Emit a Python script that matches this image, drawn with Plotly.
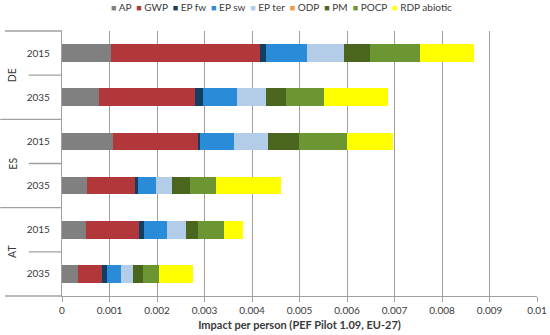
import plotly.graph_objects as go

countries = ["DE", "DE", "ES", "ES", "AT", "AT"]
years = ["2015", "2035", "2015", "2035", "2015", "2035"]

series_names = ["AP", "GWP", "EP fw", "EP sw", "EP ter", "ODP", "PM", "POCP", "RDP abiotic"]
colors = ["#808080", "#B1373A", "#113E61", "#2A8CD9", "#B3CDE8", "#F79646", "#4A661E", "#6B9632", "#FFFF00"]

AP     = [0.00104, 0.00078, 0.00108, 0.00053, 0.00050, 0.00033]
GWP    = [0.00312, 0.00203, 0.00178, 0.00101, 0.00112, 0.00051]
EP_fw  = [0.00013, 0.00015, 0.00005, 0.00006, 0.00010, 0.00010]
EP_sw  = [0.00086, 0.00072, 0.00072, 0.00037, 0.00050, 0.00031]
EP_ter = [0.00078, 0.00061, 0.00070, 0.00035, 0.00040, 0.00025]
ODP    = [0.0, 0.0, 0.0, 0.0, 0.0, 0.0]
PM     = [0.00055, 0.00042, 0.00065, 0.00038, 0.00025, 0.00020]
POCP   = [0.00106, 0.00081, 0.00103, 0.00054, 0.00053, 0.00034]
RDP    = [0.00114, 0.00135, 0.00095, 0.00136, 0.00042, 0.00071]

series_values = [AP, GWP, EP_fw, EP_sw, EP_ter, ODP, PM, POCP, RDP]

x_ticks = [0, 0.001, 0.002, 0.003, 0.004, 0.005, 0.006, 0.007, 0.008, 0.009, 0.01]
x_tick_labels = ["0", "0.001", "0.002", "0.003", "0.004", "0.005", "0.006", "0.007", "0.008", "0.009", "0.01"]

keys = [f"{c} {y}" for c, y in zip(countries, years)]

FONT = "Lato"
TXT = "#3a3a3a"
GRID = "#a0a0a0"

fig = go.Figure()
for name, col, vals in zip(series_names, colors, series_values):
    fig.add_trace(go.Bar(
        y=keys, x=vals, name=name, orientation="h",
        marker=dict(color=col, line=dict(width=0)),
        showlegend=False,
    ))

# legend built as a single text line
legend_parts = [f"<span style='color:{c};font-size:9px'>■</span> {n}" for n, c in zip(series_names, colors)]
legend_text = "  ".join(legend_parts)

annotations = [dict(
    text=legend_text, x=0.462, xref="paper", xanchor="center",
    y=1.0, yref="paper", yanchor="bottom", yshift=16,
    showarrow=False, font=dict(family=FONT, size=10, color=TXT),
)]

# country group labels and dividers
groups = []
for i, c in enumerate(countries):
    if not groups or groups[-1][0] != c:
        groups.append([c, i, i])
    else:
        groups[-1][2] = i

shapes = []
for c, i0, i1 in groups:
    annotations.append(dict(
        text=c, x=-0.105, xref="paper", xanchor="center", y=(i0 + i1) / 2, yref="y",
        yanchor="middle", textangle=-90, showarrow=False,
        font=dict(family=FONT, size=10.5, color=TXT),
    ))
    for k in range(i0, i1):
        shapes.append(dict(type="line", xref="paper", yref="y",
                           x0=-0.07, x1=0, y0=k + 0.5, y1=k + 0.5,
                           line=dict(color=GRID, width=1.3)))
    if i1 < len(countries) - 1:
        shapes.append(dict(type="line", xref="paper", yref="y",
                           x0=-0.13, x1=0, y0=i1 + 0.5, y1=i1 + 0.5,
                           line=dict(color=GRID, width=1.3)))

shapes.append(dict(type="line", xref="paper", yref="paper", x0=-0.12, x1=0, y0=1, y1=1,
                   line=dict(color=GRID, width=1.3)))
shapes.append(dict(type="line", xref="paper", yref="paper", x0=-0.12, x1=0, y0=0, y1=0,
                   line=dict(color=GRID, width=1.3)))

fig.update_layout(
    width=550, height=335,
    margin=dict(l=62, r=13, t=31, b=39),
    paper_bgcolor="white", plot_bgcolor="white",
    barmode="stack", bargap=0.6,
    font=dict(family=FONT, size=11, color=TXT),
    annotations=annotations, shapes=shapes,
    showlegend=False,
)
fig.update_xaxes(
    range=[0, 0.01], tickvals=x_ticks, ticktext=x_tick_labels,
    showgrid=True, gridcolor=GRID, gridwidth=1.3,
    showline=True, linecolor=GRID, linewidth=1.3,
    ticks="outside", ticklen=5, tickcolor=GRID, tickwidth=1.3,
    zeroline=False, automargin=False,
    tickfont=dict(family=FONT, size=10, color=TXT),
    title=dict(text="<b>Impact per person (PEF Pilot 1.09, EU-27)</b>",
               font=dict(family=FONT, size=11, color=TXT), standoff=6),
)
fig.update_yaxes(
    type="category", autorange="reversed",
    tickvals=keys, ticktext=years,
    showgrid=False, showline=True, linecolor=GRID, linewidth=1.3,
    ticks="", ticklabelstandoff=9, zeroline=False, automargin=False,
    tickfont=dict(family=FONT, size=10, color=TXT),
)

fig.write_html("out.html", config={"displayModeBar": False},
               post_script="document.body.style.margin='0';document.body.style.overflow='hidden';")
